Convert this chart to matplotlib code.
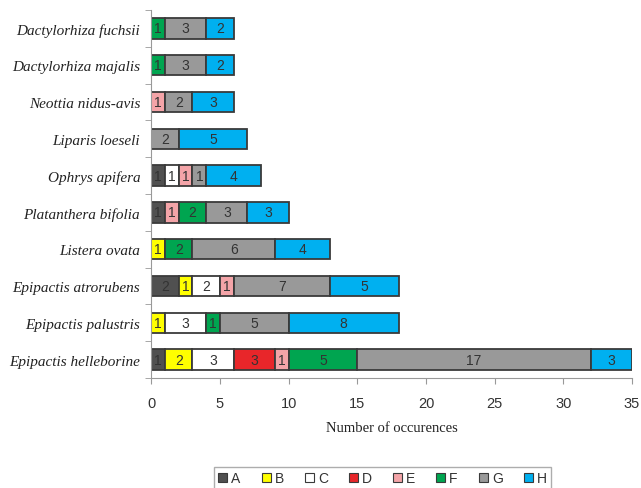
import numpy as np
import matplotlib
matplotlib.use("Agg")
from matplotlib import pyplot as plt
from matplotlib.patches import Patch

# species, bottom to top
species = [
    "Epipactis helleborine",
    "Epipactis palustris",
    "Epipactis atrorubens",
    "Listera ovata",
    "Platanthera bifolia",
    "Ophrys apifera",
    "Liparis loeseli",
    "Neottia nidus-avis",
    "Dactylorhiza majalis",
    "Dactylorhiza fuchsii",
]

groups = ["A", "B", "C", "D", "E", "F", "G", "H"]

# counts per group, same order as species
A = [1, 0, 2, 0, 1, 1, 0, 0, 0, 0]
B = [2, 1, 1, 1, 0, 0, 0, 0, 0, 0]
C = [3, 3, 2, 0, 0, 1, 0, 0, 0, 0]
D = [3, 0, 0, 0, 0, 0, 0, 0, 0, 0]
E = [1, 0, 1, 0, 1, 1, 0, 1, 0, 0]
F = [5, 1, 0, 2, 2, 0, 0, 0, 1, 1]
G = [17, 5, 7, 6, 3, 1, 2, 2, 3, 3]
H = [3, 8, 5, 4, 3, 4, 5, 3, 2, 2]

colors = ["#505050", "#ffff00", "#ffffff", "#e8262a",
          "#f4a4a8", "#00a550", "#999999", "#00b0f0"]

series = [A, B, C, D, E, F, G, H]

fig = plt.figure(figsize=(6.41, 4.89), dpi=100)
ax = fig.add_axes([0.236, 0.225, 0.750, 0.7525])

y = np.arange(len(species))
left = np.zeros(len(species))
for name, vals, col in zip(groups, series, colors):
    vals = np.array(vals, dtype=float)
    bars = ax.barh(y, vals, left=left, height=0.55, color=col,
                   edgecolor="#3a3a3a", linewidth=1.3)
    labels = [str(int(v)) if v > 0 else "" for v in vals]
    ax.bar_label(bars, labels=labels, label_type="center",
                 fontsize=10, color="#333333", family="Liberation Sans")
    left += vals

ax.set_xlim(0, 35)
ax.set_ylim(-0.5, len(species) - 0.5)
ax.set_xticks(np.arange(0, 36, 5))
ax.set_yticks(y)
ax.set_yticklabels(species, fontsize=11, style="italic",
                   family="Liberation Serif", color="#222222")
ax.set_yticks(np.arange(-0.5, len(species), 1), minor=True)
ax.tick_params(axis="y", which="major", length=0, pad=8)
ax.tick_params(axis="y", which="minor", length=4, color="#999999")
ax.tick_params(axis="x", length=4, color="#999999", labelsize=10.5,
               labelcolor="#333333", pad=9)
for lab in ax.get_xticklabels():
    lab.set_family("Liberation Sans")

ax.set_xlabel("Number of occurences", family="Liberation Serif",
              fontsize=10.5, labelpad=8, color="#222222")

for side in ["top", "right"]:
    ax.spines[side].set_visible(False)
for side in ["left", "bottom"]:
    ax.spines[side].set_color("#999999")

handles = [Patch(facecolor=c, edgecolor="#3a3a3a", linewidth=0.8) for c in colors]
leg = fig.legend(handles, groups, loc="upper left", ncol=8,
                 bbox_to_anchor=(0.334, 0.043), frameon=True, fancybox=False,
                 handlelength=0.65, handleheight=0.65, handletextpad=0.3,
                 columnspacing=1.5, prop={"family": "Liberation Sans", "size": 10},
                 borderpad=0.3, borderaxespad=0)
leg.get_frame().set_edgecolor("#999999")
for t in leg.get_texts():
    t.set_color("#333333")

fig.savefig("out.png", dpi=100)
